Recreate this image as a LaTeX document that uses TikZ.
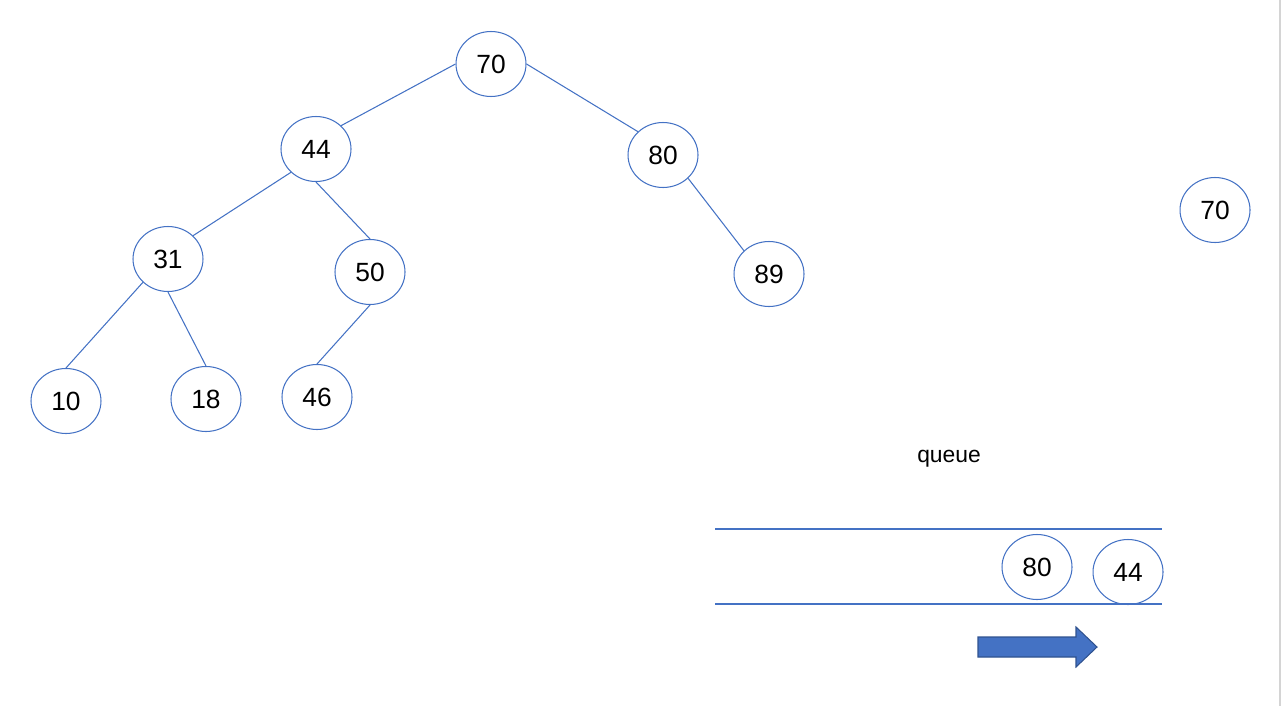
\documentclass[tikz,border=0pt]{standalone}
\usepackage{fontspec}
\setmainfont{Liberation Sans}
\usetikzlibrary{shapes.geometric}
\definecolor{pptblue}{HTML}{4472C4}
\definecolor{pptdark}{HTML}{2F528F}
\definecolor{framegray}{HTML}{D4D4D4}
\begin{document}
\begin{tikzpicture}[x = 0.02cm, y = -0.02cm,
	key/.style = { draw = pptblue, line width = 0.6pt, ellipse, minimum width = 1.4cm, minimum height = 1.3cm, inner sep = 0pt, font = \fontsize{15}{15}\selectfont },
	link/.style = { draw = pptblue, line width = 0.6pt }]
	\useasboundingbox (0, 0) rectangle (1283, 706);
	\fill [framegray] (1279, 0) rectangle (1281, 706);
	\node [key] (k70) at (491, 64) { 70 };
	\node [key] (k44) at (316, 149) { 44 };
	\node [key] (k80) at (663, 155) { 80 };
	\node [key] (k31) at (168, 259) { 31 };
	\node [key] (k50) at (370, 272) { 50 };
	\node [key] (k89) at (769, 274) { 89 };
	\node [key] (k10) at (66, 401) { 10 };
	\node [key] (k18) at (206, 399) { 18 };
	\node [key] (k46) at (317, 397) { 46 };
	\node [key] (out70) at (1215, 210) { 70 };
	\node [key] (q80) at (1037, 567) { 80 };
	\node [key] (q44) at (1128, 572) { 44 };
	\draw [link] (k70.west) -- (k44.north east);
	\draw [link] (k70.east) -- (k80.north west);
	\draw [link] (k44.south west) -- (k31.north east);
	\draw [link] (k44.south) -- (k50.north);
	\draw [link] (k31.south west) -- (k10.north);
	\draw [link] (k31.south) -- (k18.north);
	\draw [link] (k50.south) -- (k46.north);
	\draw [link] (k80.south east) -- (k89.north west);
	\node [font = \fontsize{13}{13}\selectfont] (qlabel) at (949, 459) { queue };
	\draw [link] (715, 529) -- (1162, 529);
	\draw [link] (715, 604) -- (1162, 604);
	\filldraw [fill = pptblue, draw = pptdark, line width = 0.6pt] (978, 637) -- (1076, 637) -- (1076, 627) -- (1097, 647) -- (1076, 667) -- (1076, 657) -- (978, 657) -- cycle;
\end{tikzpicture}
\end{document}
